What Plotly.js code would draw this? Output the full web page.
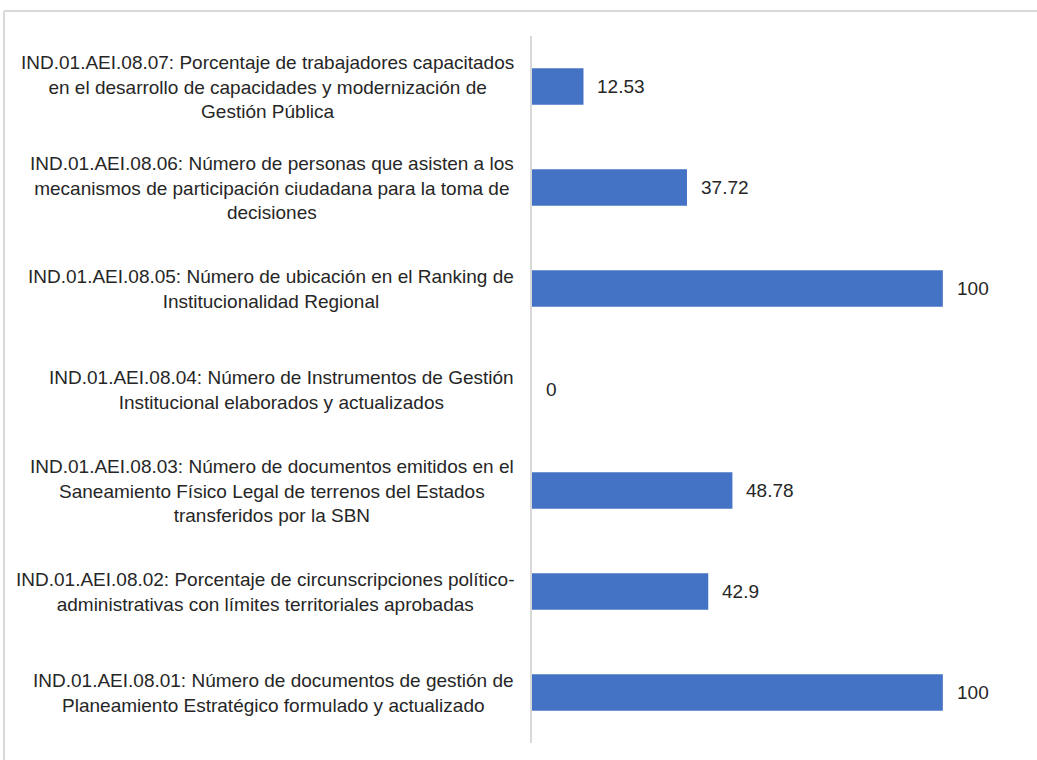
<!DOCTYPE html>
<html>
<head>
<meta charset="utf-8">
<script src="https://cdn.plot.ly/plotly-3.0.1.min.js"></script>
<style>
  html, body { margin: 0; padding: 0; background: #ffffff; }
  #chart { width: 1037px; height: 760px; }
</style>
</head>
<body>
<div id="chart"></div>
<script>
// Categories (bottom to top)
const categories = [
  "IND.01.AEI.08.01",
  "IND.01.AEI.08.02",
  "IND.01.AEI.08.03",
  "IND.01.AEI.08.04",
  "IND.01.AEI.08.05",
  "IND.01.AEI.08.06",
  "IND.01.AEI.08.07"
];
const labels = [
  "IND.01.AEI.08.01: Número de documentos de gestión de<br>Planeamiento Estratégico formulado y actualizado",
  "IND.01.AEI.08.02: Porcentaje de circunscripciones político-<br>administrativas con límites territoriales aprobadas",
  "IND.01.AEI.08.03: Número de documentos emitidos en el<br>Saneamiento Físico Legal de terrenos del Estados<br>transferidos por la SBN",
  "IND.01.AEI.08.04: Número de Instrumentos de Gestión<br>Institucional elaborados y actualizados",
  "IND.01.AEI.08.05: Número de ubicación en el Ranking de<br>Institucionalidad Regional",
  "IND.01.AEI.08.06: Número de personas que asisten a los<br>mecanismos de participación ciudadana para la toma de<br>decisiones",
  "IND.01.AEI.08.07: Porcentaje de trabajadores capacitados<br>en el desarrollo de capacidades y modernización de<br>Gestión Pública"
];
const values = [100, 42.9, 48.78, 0, 100, 37.72, 12.53];
const valueLabels = ["100", "42.9", "48.78", "0", "100", "37.72", "12.53"];

const FONT = "'Liberation Sans', Arial, sans-serif";
const TXT = "#262626";

const annotations = [];
categories.forEach((c, i) => {
  annotations.push({
    xref: "paper", yref: "y", x: 0, y: c,
    xanchor: "right", yanchor: "middle", xshift: -16,
    align: "center", showarrow: false,
    text: labels[i],
    font: {family: FONT, size: 19, color: TXT}
  });
  annotations.push({
    xref: "x", yref: "y", x: values[i], y: c,
    xanchor: "left", yanchor: "middle", xshift: 12,
    showarrow: false,
    text: valueLabels[i],
    font: {family: FONT, size: 19, color: TXT}
  });
});

const trace = {
  type: "bar",
  orientation: "h",
  y: categories,
  x: values,
  marker: {color: "#4472C4"},
  hoverinfo: "none"
};

const layout = {
  width: 1037, height: 760,
  margin: {l: 532, r: 12, t: 36, b: 17, pad: 0},
  paper_bgcolor: "#ffffff",
  plot_bgcolor: "#ffffff",
  showlegend: false,
  bargap: 0.64,
  xaxis: {range: [0, 120], showgrid: false, zeroline: false, showticklabels: false, ticks: "", showline: false, fixedrange: true},
  yaxis: {type: "category", categoryorder: "array", categoryarray: categories,
          showticklabels: false, ticks: "", showgrid: false, zeroline: false,
          showline: true, linecolor: "#d9d9d9", linewidth: 2, fixedrange: true},
  annotations: annotations,
  shapes: [
    {type: "line", xref: "paper", yref: "paper",
     x0: (4 - 532) / 493, x1: (1037 - 532) / 493,
     y0: (743 - 11) / 707, y1: (743 - 11) / 707,
     line: {color: "#d9d9d9", width: 2}},
    {type: "line", xref: "paper", yref: "paper",
     x0: (4 - 532) / 493, x1: (4 - 532) / 493,
     y0: (743 - 11) / 707, y1: (743 - 760) / 707,
     line: {color: "#d9d9d9", width: 2}}
  ]
};

Plotly.newPlot("chart", [trace], layout, {displayModeBar: false, staticPlot: true});
</script>
</body>
</html>
